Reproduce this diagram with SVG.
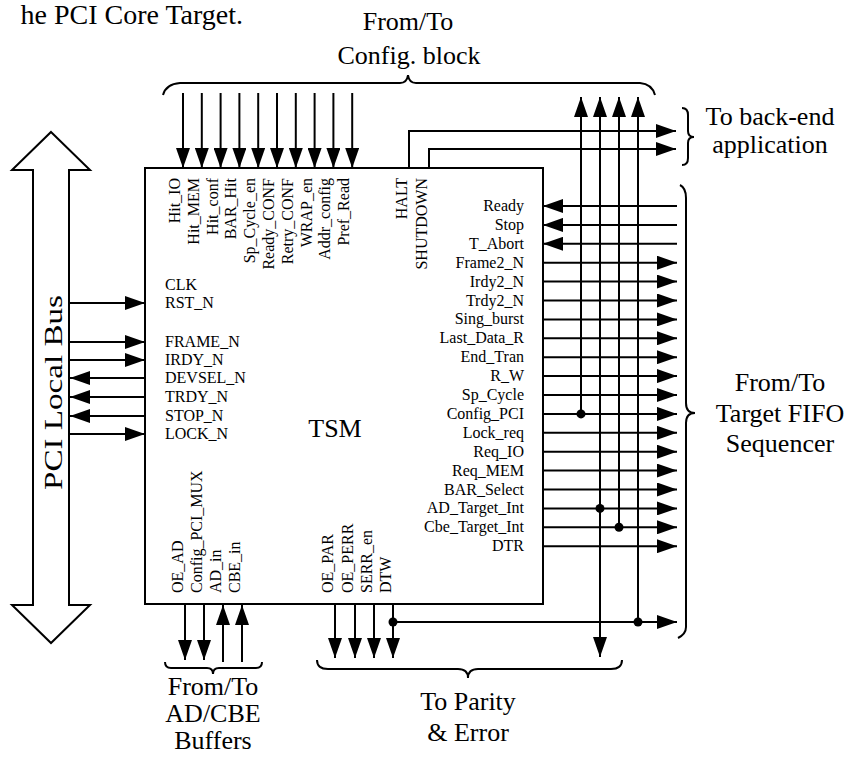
<svg xmlns="http://www.w3.org/2000/svg" width="849" height="757" viewBox="0 0 849 757">
<defs>
<marker id="ah" markerUnits="userSpaceOnUse" markerWidth="20" markerHeight="14" refX="20" refY="7" orient="auto" viewBox="0 0 20 14"><path d="M0,0 L20,7 L0,14 z" fill="#000"/></marker>
</defs>
<style>
text{font-family:"Liberation Serif","Times New Roman",serif;fill:#000}
.s{font-size:16px}
.b{font-size:26px}
.r{text-anchor:end}
.m{text-anchor:middle}
.w{stroke:#000;stroke-width:2;fill:none}
.a{stroke:#000;stroke-width:2;fill:none;marker-end:url(#ah)}
.d{fill:#000}
</style>
<rect width="849" height="757" fill="#fff"/>
<text x="243" y="24" font-size="28" class="r">he PCI Core Target.</text>

<g id="pci-bus">
<polygon points="51,132 90,170 69,170 69,605 90,605 51,643 12,605 33,605 33,170 12,170" fill="#fff" stroke="#000" stroke-width="2" stroke-linejoin="miter"/>
<text transform="translate(62,490) rotate(-90)" font-size="26" textLength="195" lengthAdjust="spacingAndGlyphs">PCI Local Bus</text>
</g>

<g id="tsm">
<rect x="145" y="168" width="398" height="436" fill="#fff" stroke="#000" stroke-width="2"/>
<text x="335" y="437" class="b m">TSM</text>
<g class="s">
<text x="165" y="290">CLK</text>
<text x="165" y="308">RST_N</text>
<text x="165" y="347">FRAME_N</text>
<text x="165" y="365">IRDY_N</text>
<text x="165" y="383">DEVSEL_N</text>
<text x="165" y="402">TRDY_N</text>
<text x="165" y="421">STOP_N</text>
<text x="165" y="439">LOCK_N</text>
</g>
<g class="s r">
<text transform="translate(180,178) rotate(-90)">Hit_IO</text>
<text transform="translate(198.8,178) rotate(-90)">Hit_MEM</text>
<text transform="translate(217.6,178) rotate(-90)">Hit_conf</text>
<text transform="translate(236.4,178) rotate(-90)">BAR_Hit</text>
<text transform="translate(255.2,178) rotate(-90)">Sp_Cycle_en</text>
<text transform="translate(274,178) rotate(-90)">Ready_CONF</text>
<text transform="translate(292.8,178) rotate(-90)">Retry_CONF</text>
<text transform="translate(311.6,178) rotate(-90)">WRAP_en</text>
<text transform="translate(330.4,178) rotate(-90)">Addr_config</text>
<text transform="translate(349.2,178) rotate(-90)">Pref_Read</text>
<text transform="translate(406.5,178) rotate(-90)">HALT</text>
<text transform="translate(426.5,178) rotate(-90)">SHUTDOWN</text>
</g>
<g class="s r">
<text x="524" y="211">Ready</text>
<text x="524" y="229.9">Stop</text>
<text x="524" y="248.8">T_Abort</text>
<text x="524" y="267.7">Frame2_N</text>
<text x="524" y="286.6">Irdy2_N</text>
<text x="524" y="305.5">Trdy2_N</text>
<text x="524" y="324.4">Sing_burst</text>
<text x="524" y="343.3">Last_Data_R</text>
<text x="524" y="362.2">End_Tran</text>
<text x="524" y="381.1">R_W</text>
<text x="524" y="400">Sp_Cycle</text>
<text x="524" y="418.9">Config_PCI</text>
<text x="524" y="437.8">Lock_req</text>
<text x="524" y="456.7">Req_IO</text>
<text x="524" y="475.6">Req_MEM</text>
<text x="524" y="494.5">BAR_Select</text>
<text x="524" y="513.4">AD_Target_Int</text>
<text x="524" y="532.3">Cbe_Target_Int</text>
<text x="524" y="551.2">DTR</text>
</g>
<g class="s">
<text transform="translate(182.5,593) rotate(-90)">OE_AD</text>
<text transform="translate(201.5,593) rotate(-90)">Config_PCI_MUX</text>
<text transform="translate(220.5,593) rotate(-90)">AD_in</text>
<text transform="translate(239.5,593) rotate(-90)">CBE_in</text>
<text transform="translate(332.5,593) rotate(-90)">OE_PAR</text>
<text transform="translate(352.5,593) rotate(-90)">OE_PERR</text>
<text transform="translate(371.5,593) rotate(-90)">SERR_en</text>
<text transform="translate(390.5,593) rotate(-90)">DTW</text>
</g>
</g>

<g id="config-block">
<path class="w" d="M163,95 Q166,84 180,83 L400,83 Q407,83 408,75 Q409,83 416,83 L640,83 Q652,84 655,95"/>
<text x="408" y="30" class="b m">From/To</text>
<text x="409" y="64" class="b m">Config. block</text>
</g>

<g id="back-end">
<path class="w" d="M682,108 Q688,108 688,115 L688,131 Q688,137 694,137 Q688,137 688,143 L688,158 Q688,165 682,165"/>
<text x="770" y="125" class="b m">To back-end</text>
<text x="770" y="153" class="b m">application</text>
</g>

<g id="fifo-sequencer">
<path class="w" d="M680,185 Q686,188 686,198 L686,403 Q686,413 695,413 Q686,413 686,423 L686,627 Q686,634 678,638"/>
<text x="780" y="391" class="b m">From/To</text>
<text x="780" y="422" class="b m">Target FIFO</text>
<text x="780" y="452" class="b m">Sequencer</text>
</g>

<g id="ad-cbe-buffers">
<path class="w" d="M165,662 Q165,668 171,668 L207,668 Q213,668 213,674 Q213,668 219,668 L256,668 Q262,668 262,662"/>
<text x="213" y="695" class="b m">From/To</text>
<text x="213" y="722" class="b m">AD/CBE</text>
<text x="213" y="749" class="b m">Buffers</text>
</g>

<g id="parity-error">
<path class="w" d="M317,660 Q317,669 328,669 L458,669 Q468,669 468,678 Q468,669 478,669 L611,669 Q622,669 622,660"/>
<text x="468" y="710" class="b m">To Parity</text>
<text x="468" y="741" class="b m">&amp; Error</text>
</g>

<g id="connectors">
<line class="a" x1="183" y1="93" x2="183" y2="168"/>
<line class="a" x1="201.8" y1="93" x2="201.8" y2="168"/>
<line class="a" x1="220.6" y1="93" x2="220.6" y2="168"/>
<line class="a" x1="239.4" y1="93" x2="239.4" y2="168"/>
<line class="a" x1="258.2" y1="93" x2="258.2" y2="168"/>
<line class="a" x1="277" y1="93" x2="277" y2="168"/>
<line class="a" x1="295.8" y1="93" x2="295.8" y2="168"/>
<line class="a" x1="314.6" y1="93" x2="314.6" y2="168"/>
<line class="a" x1="333.4" y1="93" x2="333.4" y2="168"/>
<line class="a" x1="352.2" y1="93" x2="352.2" y2="168"/>
<path class="a" d="M409,168 V131 H676"/>
<path class="a" d="M429,168 V149 H676"/>

<line class="a" x1="69" y1="303" x2="145" y2="303"/>
<line class="a" x1="69" y1="342" x2="145" y2="342"/>
<line class="a" x1="69" y1="360" x2="145" y2="360"/>
<line class="a" x1="145" y1="378" x2="70" y2="378"/>
<line class="a" x1="145" y1="397" x2="70" y2="397"/>
<line class="a" x1="145" y1="416" x2="70" y2="416"/>
<line class="a" x1="69" y1="434" x2="145" y2="434"/>

<line class="a" x1="677" y1="206" x2="543" y2="206"/>
<line class="a" x1="677" y1="224.9" x2="543" y2="224.9"/>
<line class="a" x1="677" y1="243.8" x2="543" y2="243.8"/>
<line class="a" x1="543" y1="262.7" x2="677" y2="262.7"/>
<line class="a" x1="543" y1="281.6" x2="677" y2="281.6"/>
<line class="a" x1="543" y1="300.5" x2="677" y2="300.5"/>
<line class="a" x1="543" y1="319.4" x2="677" y2="319.4"/>
<line class="a" x1="543" y1="338.3" x2="677" y2="338.3"/>
<line class="a" x1="543" y1="357.2" x2="677" y2="357.2"/>
<line class="a" x1="543" y1="376.1" x2="677" y2="376.1"/>
<line class="a" x1="543" y1="395" x2="677" y2="395"/>
<line class="a" x1="543" y1="413.9" x2="677" y2="413.9"/>
<line class="a" x1="543" y1="432.8" x2="677" y2="432.8"/>
<line class="a" x1="543" y1="451.7" x2="677" y2="451.7"/>
<line class="a" x1="543" y1="470.6" x2="677" y2="470.6"/>
<line class="a" x1="543" y1="489.5" x2="677" y2="489.5"/>
<line class="a" x1="543" y1="508.4" x2="677" y2="508.4"/>
<line class="a" x1="543" y1="527.3" x2="677" y2="527.3"/>
<line class="a" x1="543" y1="546.2" x2="677" y2="546.2"/>

<line class="a" x1="581" y1="413.9" x2="581" y2="97"/>
<line class="a" x1="600" y1="508.4" x2="600" y2="97"/>
<line class="a" x1="600" y1="508.4" x2="600" y2="657"/>
<line class="a" x1="619" y1="527.3" x2="619" y2="97"/>
<line class="a" x1="638" y1="622" x2="638" y2="97"/>
<circle class="d" cx="581" cy="413.9" r="4.5"/>
<circle class="d" cx="600" cy="508.4" r="4.5"/>
<circle class="d" cx="619" cy="527.3" r="4.5"/>
<circle class="d" cx="638" cy="622" r="4.5"/>

<line class="a" x1="185" y1="604" x2="185" y2="660"/>
<line class="a" x1="204" y1="604" x2="204" y2="660"/>
<line class="a" x1="223" y1="662" x2="223" y2="605"/>
<line class="a" x1="242" y1="662" x2="242" y2="605"/>

<line class="a" x1="335" y1="604" x2="335" y2="658"/>
<line class="a" x1="355" y1="604" x2="355" y2="658"/>
<line class="a" x1="374" y1="604" x2="374" y2="658"/>
<line class="a" x1="393" y1="604" x2="393" y2="658"/>
<line class="a" x1="393" y1="622" x2="677" y2="622"/>
<circle class="d" cx="393" cy="622" r="4.5"/>
</g>
</svg>
